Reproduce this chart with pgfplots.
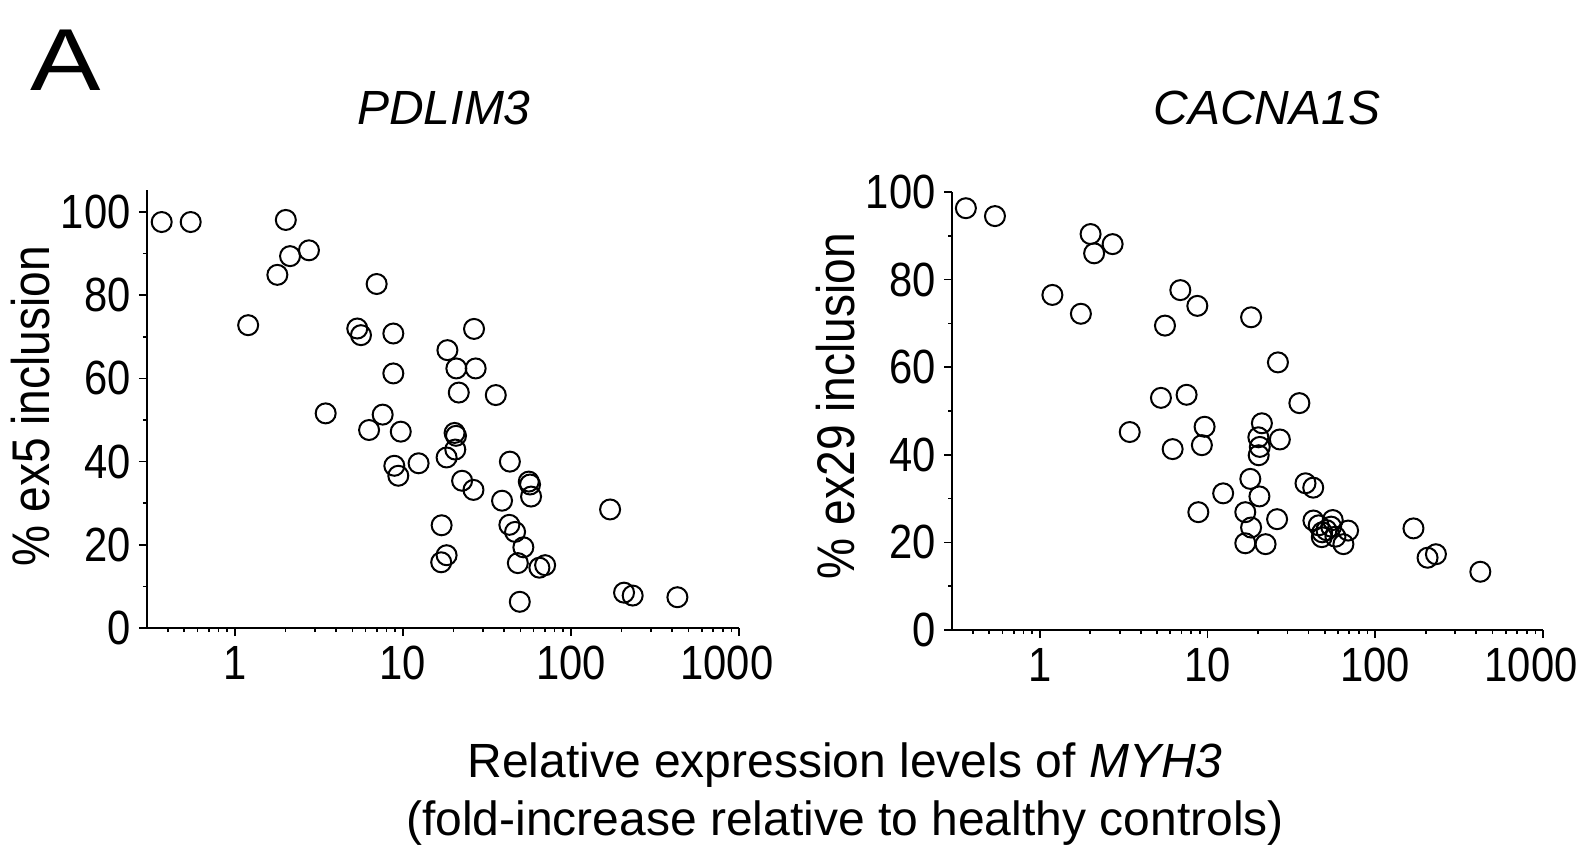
\documentclass[border=0pt]{standalone}
\usepackage{fontspec}
\setmainfont{Liberation Sans}
\newfontfamily\condfont{Liberation Sans}[FakeStretch=0.87]
\newfontfamily\widefont{Liberation Sans}[FakeStretch=1.2]
\usepackage{pgfplots}
\pgfplotsset{compat=1.18}
\pgfplotsset{
 myaxstyle/.style={
  scale only axis, ymin=0,
  axis x line*=bottom, axis y line*=left,
  axis line style={line width=1pt, black},
  xtick={1,10,100,1000}, xticklabels={1,10,100,{\makebox[0pt][c]{1000\hspace{12pt}}}},
  minor xtick={0.4,0.5,0.6,0.7,0.8,0.9,2,3,4,5,6,7,8,9,20,30,40,50,60,70,80,90,200,300,400,500,600,700,800,900},
  ytick={0,20,40,60,80,100}, yticklabels={0,20,40,60,80,100},
  minor ytick={10,30,50,70,90},
  tick align=outside, major tick length=4pt, minor tick length=2pt,
  every tick/.style={black, line width=0.8pt},
  tick label style={font=\condfont\fontsize{24pt}{28pt}\selectfont},
  yticklabel style={inner sep=0pt, xshift=-4pt},
  xticklabel style={inner sep=0pt, yshift=-5pt},
  /pgf/number format/assume math mode=true,
  clip=false,
 },
}
\begin{document}
\begin{tikzpicture}
\path[use as bounding box] (0,0) rectangle (793.5pt,-422.5pt);
% left axis: PDLIM3
\begin{axis}[xmode=log, xmin=0.3, xmax=1000, myaxstyle, at={(73.5pt,-314pt)}, anchor=south west, width=296pt, height=219pt, ymax=105.3]
\addplot[only marks, mark=o, mark size=5pt, mark options={line width=1pt, draw=black}] table {
x y
0.367 97.6
0.546 97.6
2.01 98.1
2.76 90.8
2.13 89.4
1.79 84.9
1.20 72.8
6.98 82.7
5.35 72.0
5.63 70.4
8.77 70.8
26.5 71.9
18.4 66.8
20.8 62.4
27.1 62.4
8.77 61.2
21.5 56.6
35.7 56.0
3.47 51.6
7.58 51.3
6.29 47.6
9.71 47.2
20.3 46.9
20.7 46.2
20.5 42.9
18.2 41.0
8.89 39.0
9.39 36.6
12.4 39.6
43.3 40.0
22.5 35.4
26.3 33.2
56.1 35.2
57.1 34.5
57.9 31.6
38.9 30.6
171 28.5
17.0 24.7
43.0 24.8
46.5 23.1
52.1 19.4
18.2 17.5
16.9 15.8
48.3 15.6
64.9 14.5
70.2 15.1
207 8.5
233 7.8
430 7.4
49.6 6.3
};
\end{axis}
% right axis: CACNA1S
\begin{axis}[xmode=log, xmin=0.3, xmax=1000, myaxstyle, at={(476pt,-315pt)}, anchor=south west, width=295.5pt, height=219pt, ymax=100]
\addplot[only marks, mark=o, mark size=5pt, mark options={line width=1pt, draw=black}] table {
x y
0.363 96.3
0.541 94.5
2.01 90.4
2.72 88.1
2.11 86.0
1.19 76.5
1.76 72.2
6.89 77.6
8.70 74.0
5.58 69.5
18.2 71.4
26.3 61.1
5.28 53.0
7.51 53.7
35.3 51.8
3.44 45.2
9.61 46.4
6.20 41.3
9.26 42.2
21.1 47.2
20.1 44.0
20.5 41.8
20.2 39.9
27.0 43.5
18.0 34.5
38.4 33.5
42.7 32.5
12.4 31.2
20.4 30.5
8.82 26.9
16.8 26.9
26.0 25.3
18.2 23.4
16.8 19.8
22.2 19.6
42.8 25.0
46.0 23.9
55.8 25.1
54.6 23.6
48.3 22.3
48.0 21.2
57.9 21.3
68.9 22.7
64.6 19.6
51.2 22.8
169 23.2
205 16.5
230 17.3
423 13.3
};
\end{axis}
% texts
\node[anchor=base west, inner sep=0pt, font=\widefont\fontsize{44pt}{50pt}\selectfont] at (15pt,-45.5pt) {A};
\node[anchor=base, inner sep=0pt, font=\fontsize{24pt}{28pt}\selectfont\itshape] at (222pt,-62.25pt) {PDLIM3};
\node[anchor=base, inner sep=0pt, font=\fontsize{24pt}{28pt}\selectfont\itshape] at (633.5pt,-62.25pt) {CACNA1S};
\node[rotate=90, anchor=center, inner sep=0pt, font=\condfont\fontsize{26.5pt}{30pt}\selectfont] at (15.3pt,-203pt) {\% ex5 inclusion};
\node[rotate=90, anchor=center, inner sep=0pt, font=\condfont\fontsize{26.5pt}{30pt}\selectfont] at (418pt,-203pt) {\% ex29 inclusion};
\node[anchor=base, inner sep=0pt, font=\fontsize{24pt}{28pt}\selectfont] at (422.5pt,-388.5pt) {Relative expression levels of \textit{MYH3}};
\node[anchor=base, inner sep=0pt, font=\fontsize{24pt}{28pt}\selectfont] at (422.5pt,-417.5pt) {(fold-increase relative to healthy controls)};
\end{tikzpicture}
\end{document}
